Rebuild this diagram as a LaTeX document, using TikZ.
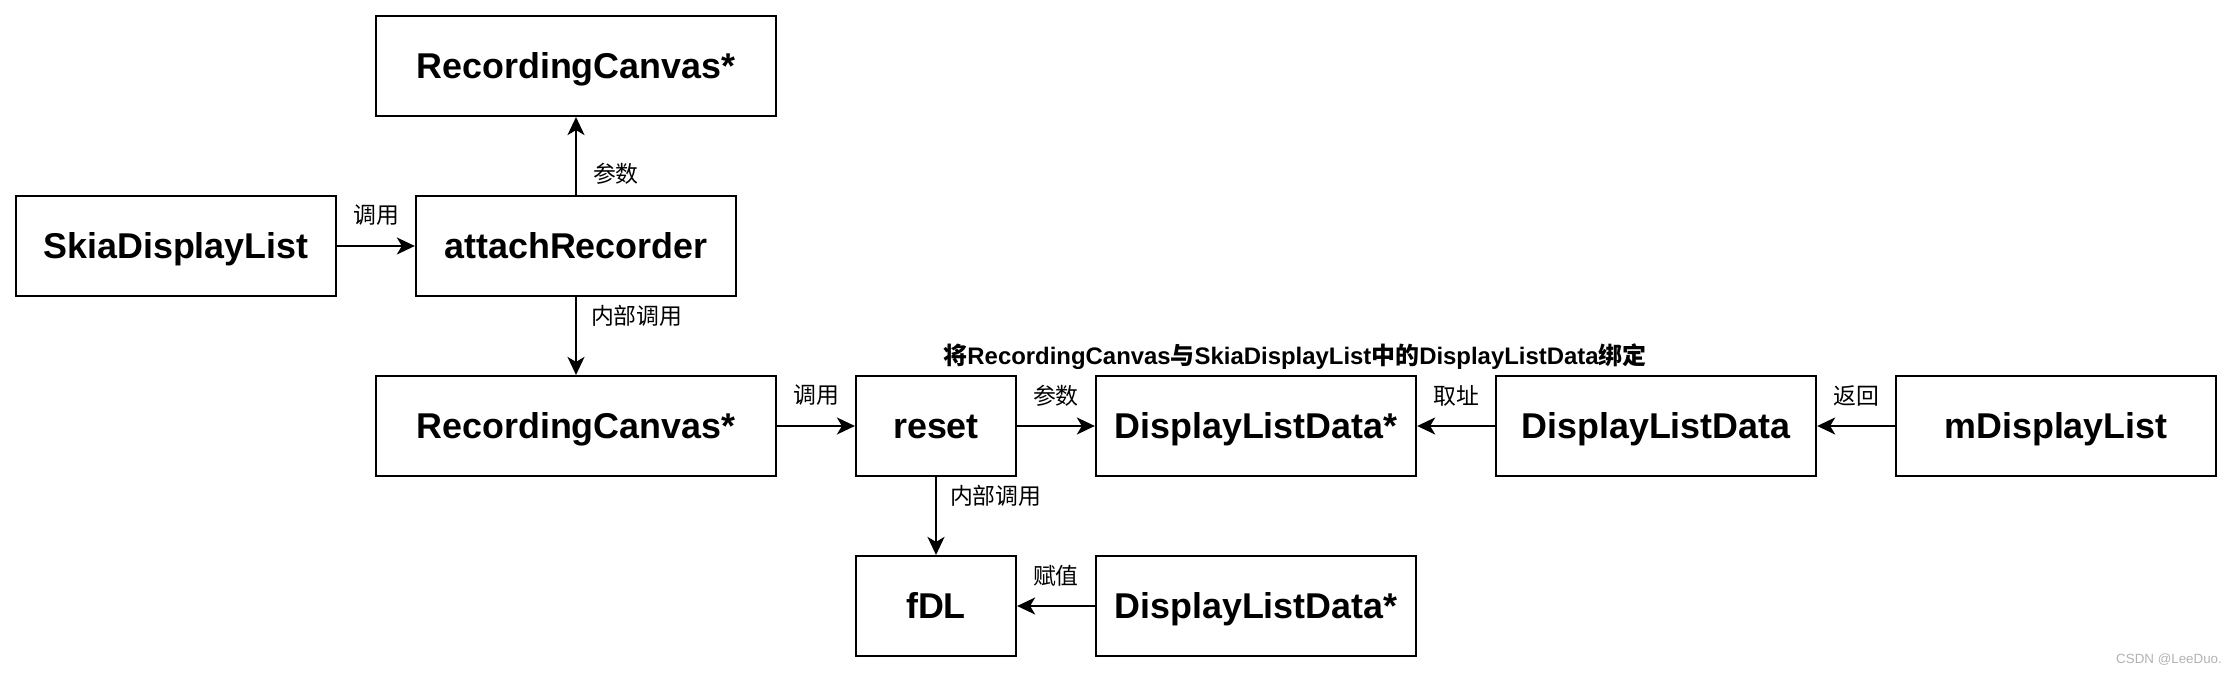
\documentclass[tikz,border=0pt]{standalone}
\usepackage{fontspec}
\setmainfont{Liberation Sans}
\newfontfamily\cjk{Noto Sans CJK SC}
\usetikzlibrary{arrows.meta,positioning}

\begin{document}
\begin{tikzpicture}[x=0.01cm, y=-0.01cm, >={Stealth[length=0.18cm,width=0.17cm,inset=0.05cm]}]
        \tikzset{box/.style={rectangle, draw, line width=0.6pt, minimum width=3.2cm, minimum height=1cm, inner sep=0pt, text height=0.326cm, text depth=0.076cm, font=\fontsize{10.2}{12}\selectfont\bfseries}, wide/.style={box, minimum width=4cm}, narrow/.style={box, minimum width=1.6cm}, lab/.style={inner sep=0pt, font=\fontsize{6.5}{8}\selectfont\cjk}, conn/.style={->, line width=0.6pt}}
        \useasboundingbox (0,0) rectangle (2234,674);
        \node[wide] (rctop) at (576,66) {RecordingCanvas*};
        \node[box] (skia) at (176,246) {SkiaDisplayList};
        \node[box] (attach) at (576,246) {attachRecorder};
        \node[wide] (rcmid) at (576,426) {RecordingCanvas*};
        \node[narrow] (reset) at (936,426) {reset};
        \node[box] (dldp) at (1256,426) {DisplayListData*};
        \node[box] (dld) at (1656,426) {DisplayListData};
        \node[box] (mdl) at (2056,426) {mDisplayList};
        \node[narrow] (fdl) at (936,606) {fDL};
        \node[box] (dldq) at (1256,606) {DisplayListData*};
        \node[font=\fontsize{6.8}{8}\selectfont\bfseries] (title) at (1295,357) {{\cjk 将}RecordingCanvas{\cjk 与}SkiaDisplayList{\cjk 中的}DisplayListData{\cjk 绑定}};
        \node[text=gray!60, font=\fontsize{3.8}{4}\selectfont] (mark) at (2169,660) {CSDN @LeeDuo.};
        \draw[conn] (skia) -- node[lab, above=0.19cm]{调用} (attach);
        \draw[conn] (attach) -- node[lab, right=0.16cm, pos=0.27]{参数} (rctop);
        \draw[conn] (attach) -- node[lab, right=0.14cm, pos=0.24]{内部调用} (rcmid);
        \draw[conn] (rcmid) -- node[lab, above=0.19cm]{调用} (reset);
        \draw[conn] (reset) -- node[lab, above=0.19cm]{参数} (dldp);
        \draw[conn] (dld) -- node[lab, above=0.19cm]{取址} (dldp);
        \draw[conn] (mdl) -- node[lab, above=0.19cm]{返回} (dld);
        \draw[conn] (reset) -- node[lab, right=0.13cm, pos=0.24]{内部调用} (fdl);
        \draw[conn] (dldq) -- node[lab, above=0.19cm]{赋值} (fdl);
    \end{tikzpicture}
\end{document}
